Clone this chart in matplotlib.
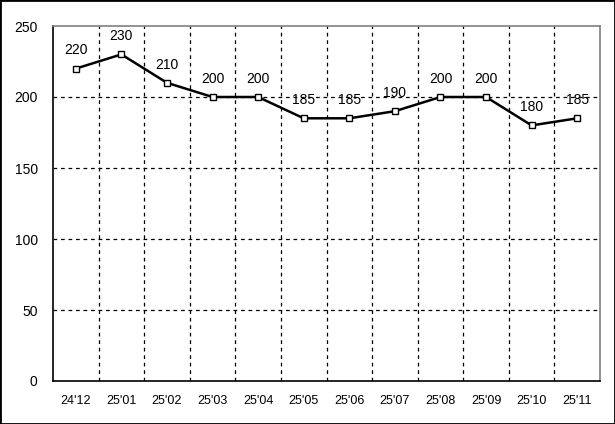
import matplotlib
matplotlib.use("Agg")
import matplotlib.pyplot as plt
from matplotlib.patches import Rectangle

months = ["24'12", "25'01", "25'02", "25'03", "25'04", "25'05",
          "25'06", "25'07", "25'08", "25'09", "25'10", "25'11"]
values = [220, 230, 210, 200, 200, 185, 185, 190, 200, 200, 180, 185]
y_ticks = [0, 50, 100, 150, 200, 250]

plt.rcParams['font.family'] = ['Liberation Sans', 'DejaVu Sans']

fig = plt.figure(figsize=(6.15, 4.24), dpi=100)
ax = fig.add_axes([53 / 615, 1 - 381 / 424, (600 - 53) / 615, (381 - 26) / 424])

x = list(range(len(months)))
ax.plot(x, values, color="black", lw=1.8, marker="s", ms=5,
        mfc="white", mec="black", mew=1, zorder=3)

for xi, v in zip(x, values):
    ax.annotate(str(v), (xi, v), xytext=(0, 8), textcoords="offset points",
                ha="center", va="bottom", fontsize=10)

ax.set_xlim(-0.5, len(months) - 0.5)
ax.set_ylim(0, 250)
ax.set_yticks(y_ticks)
ax.set_xticks(x)
ax.set_xticklabels(months, fontsize=9)
ax.tick_params(axis="y", labelsize=10, length=0, pad=11)
ax.tick_params(axis="x", length=0, pad=10)

for b in [i + 0.5 for i in x[:-1]]:
    ax.axvline(b, color="black", lw=0.9, ls=(0, (3, 3)), zorder=1)
for t in y_ticks[1:-1]:
    ax.axhline(t, color="black", lw=0.9, ls=(0, (3, 3)), zorder=1)

ax.spines["left"].set_color("black")
ax.spines["bottom"].set_color("black")
ax.spines["top"].set_color("#808080")
ax.spines["right"].set_color("#808080")
for s in ax.spines.values():
    s.set_linewidth(1.2)

fig.patches.append(Rectangle((0, 0), 1, 1, transform=fig.transFigure,
                             fill=False, ec="black", lw=2))

fig.savefig("out.png", dpi=100)
